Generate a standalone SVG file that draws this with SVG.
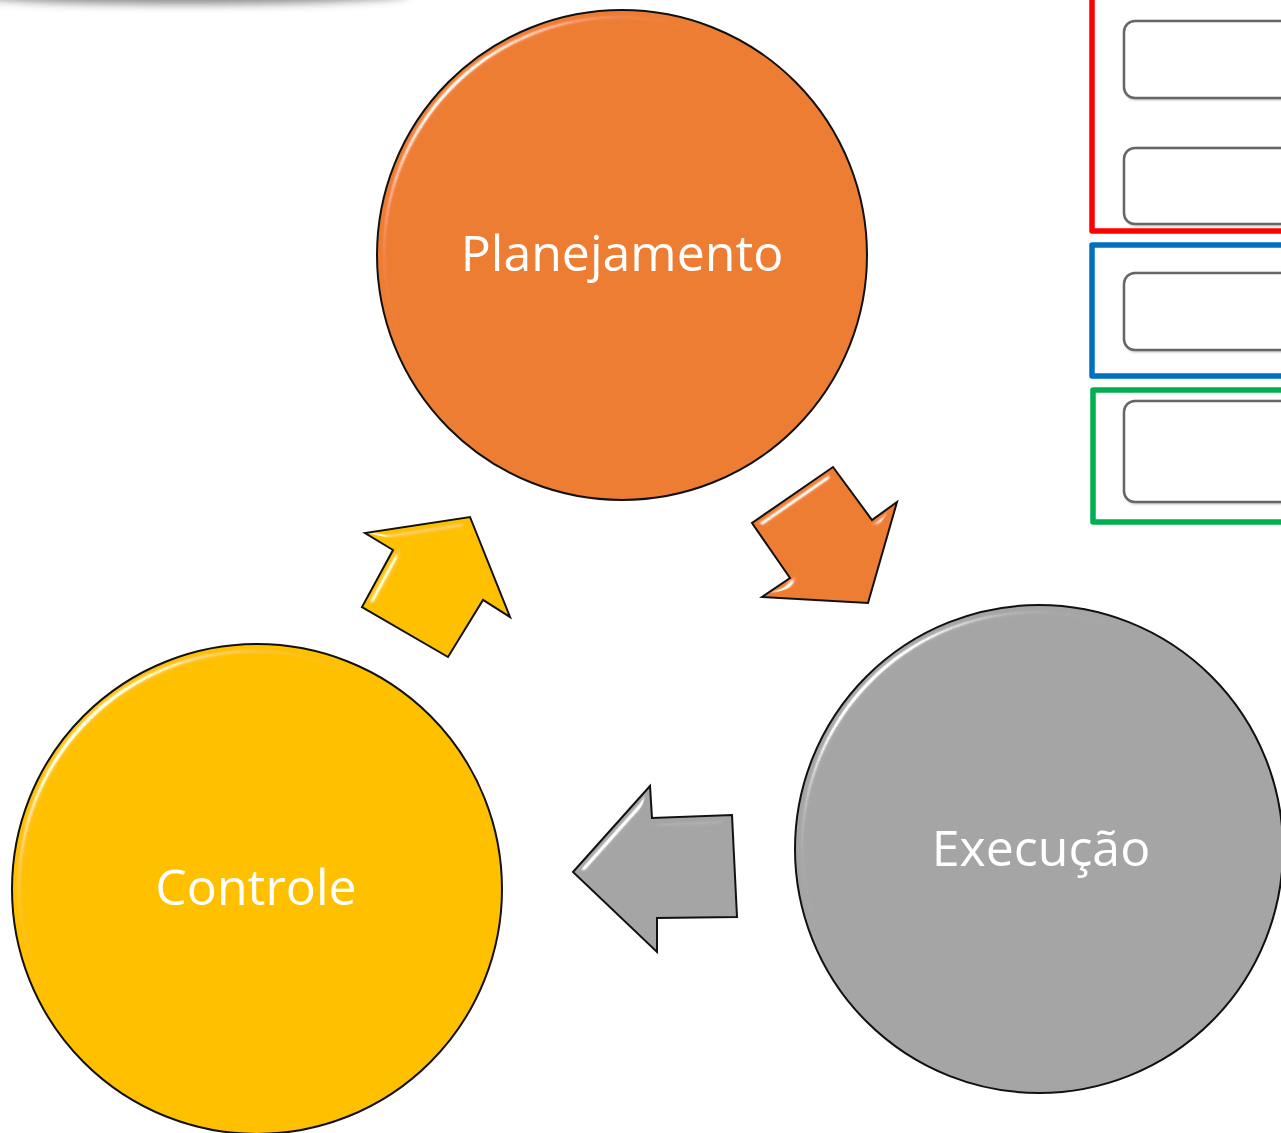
<svg xmlns="http://www.w3.org/2000/svg" width="1281" height="1133" viewBox="0 0 1281 1133">
<defs>
<style>
.lbl{font-family:"Open Sans","Noto Sans","Liberation Sans",sans-serif;font-size:50px;fill:#ffffff;text-anchor:middle}
.edge{fill:none;stroke:#111;stroke-width:2;stroke-linejoin:miter}
.frame{fill:none;stroke-width:5.5;stroke-linejoin:round}
.slot{fill:#fff;stroke:#666;stroke-width:2.5}
</style>
<filter id="bevel" x="-5%" y="-5%" width="110%" height="110%">
<feGaussianBlur in="SourceAlpha" stdDeviation="4" result="blur"/>
<feSpecularLighting in="blur" surfaceScale="7" specularConstant="1.2" specularExponent="60" lighting-color="#ffffff" result="spec">
<feDistantLight azimuth="225" elevation="35"/>
</feSpecularLighting>
<feComposite in="spec" in2="SourceAlpha" operator="in" result="specIn"/>
<feComposite in="SourceGraphic" in2="specIn" operator="arithmetic" k1="0" k2="1" k3="0.85" k4="0"/>
</filter>
<filter id="soft" x="-20%" y="-300%" width="140%" height="700%">
<feGaussianBlur stdDeviation="5"/>
</filter>
<filter id="sh" x="-5%" y="-20%" width="110%" height="140%">
<feDropShadow dx="1" dy="1" stdDeviation="1" flood-color="#000" flood-opacity="0.25"/>
</filter>
</defs>
<rect width="1281" height="1133" fill="#ffffff"/>

<ellipse cx="185" cy="-7" rx="225" ry="11" fill="#444" opacity="0.65" filter="url(#soft)"/>

<g id="legend">
<g id="frame-red"><rect class="frame" x="1092" y="-20" width="260" height="251" stroke="#FF0000"/>
<rect class="slot" x="1124" y="21" width="200" height="77" rx="11" filter="url(#sh)"/>
<rect class="slot" x="1124" y="148" width="200" height="76" rx="11" filter="url(#sh)"/></g>
<g id="frame-blue"><rect class="frame" x="1092" y="245" width="260" height="131" stroke="#0070C0"/>
<rect class="slot" x="1124" y="273" width="200" height="77" rx="11" filter="url(#sh)"/></g>
<g id="frame-green"><rect class="frame" x="1093" y="390" width="260" height="132" stroke="#00B050"/>
<rect class="slot" x="1124" y="401" width="200" height="101" rx="11" filter="url(#sh)"/></g>
</g>

<g id="node-planejamento">
<circle cx="622" cy="255" r="245" fill="#ED7D31" filter="url(#bevel)"/>
<circle class="edge" cx="622" cy="255" r="245"/>
<text class="lbl" x="622" y="271">Planejamento</text>
</g>

<g id="node-execucao">
<circle cx="1039" cy="849" r="244" fill="#A5A5A5" filter="url(#bevel)"/>
<circle class="edge" cx="1039" cy="849" r="244"/>
<text class="lbl" x="1041" y="866">Execução</text>
</g>

<g id="node-controle">
<circle cx="257" cy="889" r="245" fill="#FFC000" filter="url(#bevel)"/>
<circle class="edge" cx="257" cy="889" r="245"/>
<text class="lbl" x="256" y="905">Controle</text>
</g>

<g id="connectors">
<g id="arrow-plan-exec">
<polygon points="833,467 872,520 897,502 868,603 762,597 790,578 752,523" fill="#ED7D31" filter="url(#bevel)"/>
<polygon class="edge" points="833,467 872,520 897,502 868,603 762,597 790,578 752,523"/>
</g>
<g id="arrow-exec-ctrl">
<polygon points="573,872 650,786 652,818 732,815 737,917 657,918 657,952" fill="#A5A5A5" filter="url(#bevel)"/>
<polygon class="edge" points="573,872 650,786 652,818 732,815 737,917 657,918 657,952"/>
</g>
<g id="arrow-ctrl-plan">
<polygon points="470,517 510,617 483,600 448,657 362,607 393,550 365,533" fill="#FFC000" filter="url(#bevel)"/>
<polygon class="edge" points="470,517 510,617 483,600 448,657 362,607 393,550 365,533"/>
</g>
</g>
</svg>
